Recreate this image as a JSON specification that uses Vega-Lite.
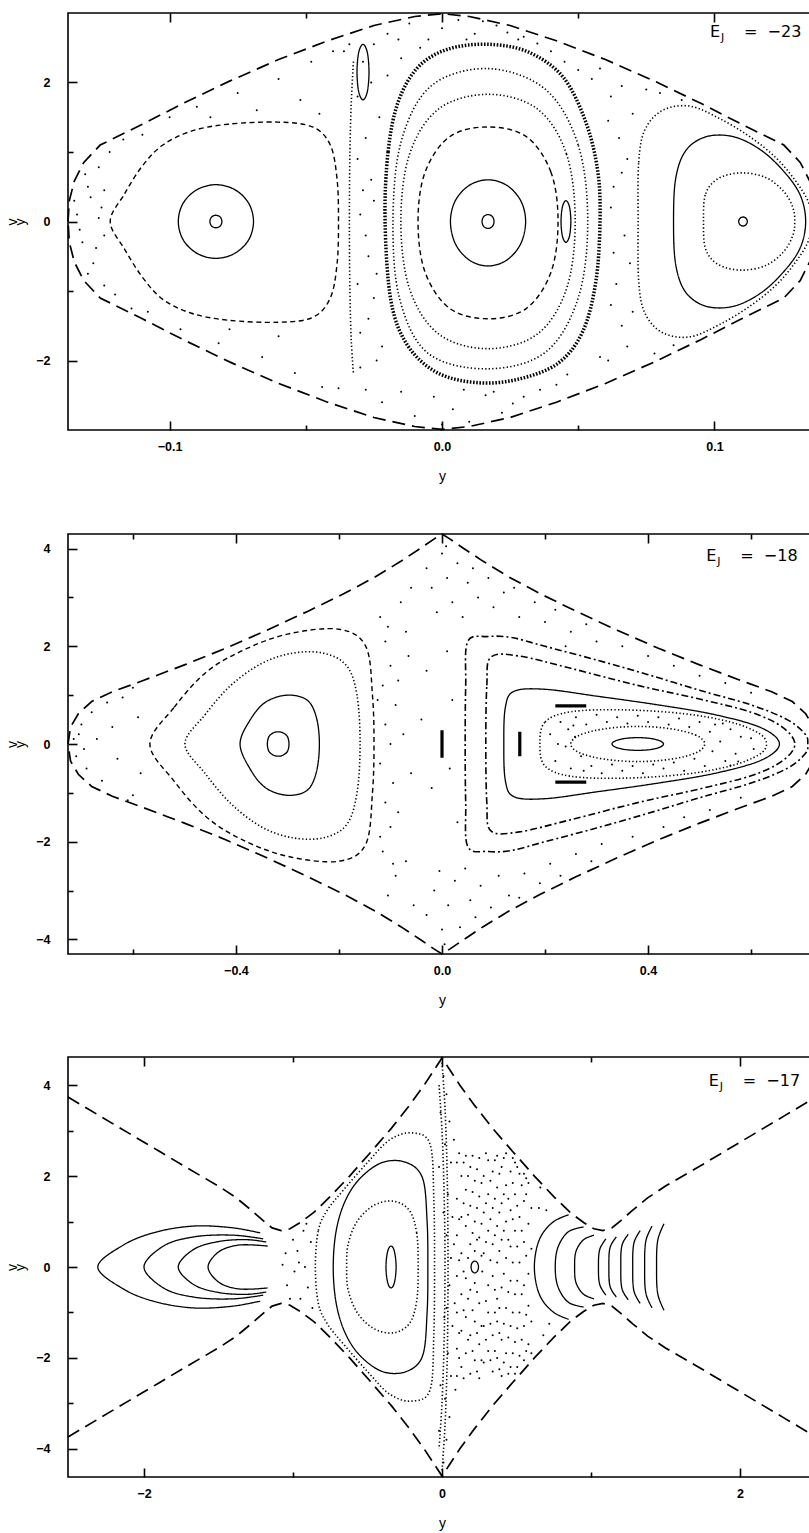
{
  "$schema": "https://vega.github.io/schema/vega-lite/v6.json",
  "background": "white",
  "padding": {"left": 4, "top": 9, "right": 0, "bottom": 0},
  "spacing": 44,
  "config": {
    "view": {"stroke": "black", "strokeWidth": 1.6},
    "axis": {"domain": false, "grid": false, "tickColor": "black", "tickWidth": 1.6, "labelColor": "black", "labelFont": "Liberation Sans", "labelFontWeight": "bold", "labelFontSize": 12.5, "labelFlush": false, "labelOverlap": false, "titleFont": "Liberation Sans", "titleFontWeight": "normal", "titleFontSize": 14, "titleColor": "black"},
    "line": {"color": "black", "clip": true},
    "circle": {"color": "black", "clip": true, "size": 4, "opacity": 1},
    "text": {"color": "black", "font": "DejaVu Sans", "align": "left", "baseline": "alphabetic"}
  },
  "datasets": {
    "p1B": [
      {"c":"B","o":0,"x":-0.1373,"v":0},{"c":"B","o":1,"x":-0.1368,"v":0.3},{"c":"B","o":2,"x":-0.135,"v":0.58},{"c":"B","o":3,"x":-0.1315,"v":0.85},{"c":"B","o":4,"x":-0.1255,"v":1.1},{"c":"B","o":5,"x":-0.11,"v":1.4},{"c":"B","o":6,"x":-0.095,"v":1.7},{"c":"B","o":7,"x":-0.078,"v":2.02},{"c":"B","o":8,"x":-0.06,"v":2.33},{"c":"B","o":9,"x":-0.042,"v":2.6},{"c":"B","o":10,"x":-0.025,"v":2.82},{"c":"B","o":11,"x":-0.01,"v":2.95},{"c":"B","o":12,"x":0,"v":2.99},{"c":"B","o":13,"x":0.01,"v":2.95},{"c":"B","o":14,"x":0.025,"v":2.82},{"c":"B","o":15,"x":0.042,"v":2.6},{"c":"B","o":16,"x":0.06,"v":2.33},{"c":"B","o":17,"x":0.078,"v":2.02},{"c":"B","o":18,"x":0.095,"v":1.7},{"c":"B","o":19,"x":0.11,"v":1.4},{"c":"B","o":20,"x":0.1255,"v":1.1},{"c":"B","o":21,"x":0.1315,"v":0.85},{"c":"B","o":22,"x":0.135,"v":0.58},{"c":"B","o":23,"x":0.1368,"v":0.3},{"c":"B","o":24,"x":0.1373,"v":0},
      {"c":"B","o":25,"x":0.1368,"v":-0.3},{"c":"B","o":26,"x":0.135,"v":-0.58},{"c":"B","o":27,"x":0.1315,"v":-0.85},{"c":"B","o":28,"x":0.1255,"v":-1.1},{"c":"B","o":29,"x":0.11,"v":-1.4},{"c":"B","o":30,"x":0.095,"v":-1.7},{"c":"B","o":31,"x":0.078,"v":-2.02},{"c":"B","o":32,"x":0.06,"v":-2.33},{"c":"B","o":33,"x":0.042,"v":-2.6},{"c":"B","o":34,"x":0.025,"v":-2.82},{"c":"B","o":35,"x":0.01,"v":-2.95},{"c":"B","o":36,"x":0,"v":-2.99},{"c":"B","o":37,"x":-0.01,"v":-2.95},{"c":"B","o":38,"x":-0.025,"v":-2.82},{"c":"B","o":39,"x":-0.042,"v":-2.6},{"c":"B","o":40,"x":-0.06,"v":-2.33},{"c":"B","o":41,"x":-0.078,"v":-2.02},{"c":"B","o":42,"x":-0.095,"v":-1.7},{"c":"B","o":43,"x":-0.11,"v":-1.4},{"c":"B","o":44,"x":-0.1255,"v":-1.1},{"c":"B","o":45,"x":-0.1315,"v":-0.85},{"c":"B","o":46,"x":-0.135,"v":-0.58},{"c":"B","o":47,"x":-0.1368,"v":-0.3},{"c":"B","o":48,"x":-0.1373,"v":0}
    ],
    "p1L": [
      {"c":"a","s":"solid","o":0,"x":-0.0808,"v":0},{"c":"a","s":"solid","o":1,"x":-0.0814,"v":0.064},{"c":"a","s":"solid","o":2,"x":-0.083,"v":0.09},{"c":"a","s":"solid","o":3,"x":-0.0846,"v":0.064},{"c":"a","s":"solid","o":4,"x":-0.0852,"v":0},{"c":"a","s":"solid","o":5,"x":-0.0846,"v":-0.064},{"c":"a","s":"solid","o":6,"x":-0.083,"v":-0.09},{"c":"a","s":"solid","o":7,"x":-0.0814,"v":-0.064},
      {"c":"b","s":"solid","o":0,"x":-0.0692,"v":0},{"c":"b","s":"solid","o":1,"x":-0.071,"v":0.265},{"c":"b","s":"solid","o":2,"x":-0.0761,"v":0.459},{"c":"b","s":"solid","o":3,"x":-0.083,"v":0.53},{"c":"b","s":"solid","o":4,"x":-0.0899,"v":0.459},{"c":"b","s":"solid","o":5,"x":-0.095,"v":0.265},{"c":"b","s":"solid","o":6,"x":-0.0968,"v":0},{"c":"b","s":"solid","o":7,"x":-0.095,"v":-0.265},{"c":"b","s":"solid","o":8,"x":-0.0899,"v":-0.459},{"c":"b","s":"solid","o":9,"x":-0.083,"v":-0.53},{"c":"b","s":"solid","o":10,"x":-0.0761,"v":-0.459},{"c":"b","s":"solid","o":11,"x":-0.071,"v":-0.265},
      {"c":"c","s":"dash","o":0,"x":-0.1218,"v":0},{"c":"c","s":"dash","o":1,"x":-0.1165,"v":0.4},{"c":"c","s":"dash","o":2,"x":-0.11,"v":0.8},{"c":"c","s":"dash","o":3,"x":-0.1025,"v":1.1},{"c":"c","s":"dash","o":4,"x":-0.092,"v":1.3},{"c":"c","s":"dash","o":5,"x":-0.0785,"v":1.4},{"c":"c","s":"dash","o":6,"x":-0.0602,"v":1.43},{"c":"c","s":"dash","o":7,"x":-0.0475,"v":1.36},{"c":"c","s":"dash","o":8,"x":-0.041,"v":1.1},{"c":"c","s":"dash","o":9,"x":-0.0385,"v":0.6},{"c":"c","s":"dash","o":10,"x":-0.038,"v":0},{"c":"c","s":"dash","o":11,"x":-0.0385,"v":-0.6},{"c":"c","s":"dash","o":12,"x":-0.041,"v":-1.1},{"c":"c","s":"dash","o":13,"x":-0.0475,"v":-1.38},{"c":"c","s":"dash","o":14,"x":-0.0602,"v":-1.45},{"c":"c","s":"dash","o":15,"x":-0.0785,"v":-1.42},{"c":"c","s":"dash","o":16,"x":-0.092,"v":-1.32},{"c":"c","s":"dash","o":17,"x":-0.1025,"v":-1.12},{"c":"c","s":"dash","o":18,"x":-0.11,"v":-0.8},{"c":"c","s":"dash","o":19,"x":-0.1165,"v":-0.4},
      {"c":"d","s":"solid","o":0,"x":-0.0268,"v":2.15},{"c":"d","s":"solid","o":1,"x":-0.0274,"v":2.43},{"c":"d","s":"solid","o":2,"x":-0.029,"v":2.55},{"c":"d","s":"solid","o":3,"x":-0.0306,"v":2.43},{"c":"d","s":"solid","o":4,"x":-0.0312,"v":2.15},{"c":"d","s":"solid","o":5,"x":-0.0306,"v":1.87},{"c":"d","s":"solid","o":6,"x":-0.029,"v":1.75},{"c":"d","s":"solid","o":7,"x":-0.0274,"v":1.87},
      {"c":"e","s":"solid","o":0,"x":0.0191,"v":0},{"c":"e","s":"solid","o":1,"x":0.0185,"v":0.07},{"c":"e","s":"solid","o":2,"x":0.0169,"v":0.1},{"c":"e","s":"solid","o":3,"x":0.0153,"v":0.07},{"c":"e","s":"solid","o":4,"x":0.0147,"v":0},{"c":"e","s":"solid","o":5,"x":0.0153,"v":-0.07},{"c":"e","s":"solid","o":6,"x":0.0169,"v":-0.1},{"c":"e","s":"solid","o":7,"x":0.0185,"v":-0.07},
      {"c":"f","s":"solid","o":0,"x":0.0307,"v":0},{"c":"f","s":"solid","o":1,"x":0.0289,"v":0.3},{"c":"f","s":"solid","o":2,"x":0.0238,"v":0.52},{"c":"f","s":"solid","o":3,"x":0.0169,"v":0.6},{"c":"f","s":"solid","o":4,"x":0.01,"v":0.52},{"c":"f","s":"solid","o":5,"x":0.0049,"v":0.3},{"c":"f","s":"solid","o":6,"x":0.0031,"v":0},{"c":"f","s":"solid","o":7,"x":0.0049,"v":-0.32},{"c":"f","s":"solid","o":8,"x":0.01,"v":-0.555},{"c":"f","s":"solid","o":9,"x":0.0169,"v":-0.64},{"c":"f","s":"solid","o":10,"x":0.0238,"v":-0.555},{"c":"f","s":"solid","o":11,"x":0.0289,"v":-0.32},
      {"c":"g","s":"dash","o":0,"x":0.0426,"v":0},{"c":"g","s":"dash","o":1,"x":0.04,"v":0.71},{"c":"g","s":"dash","o":2,"x":0.031,"v":1.22},{"c":"g","s":"dash","o":3,"x":0.0169,"v":1.36},{"c":"g","s":"dash","o":4,"x":0.0028,"v":1.22},{"c":"g","s":"dash","o":5,"x":-0.0062,"v":0.71},{"c":"g","s":"dash","o":6,"x":-0.0088,"v":0},{"c":"g","s":"dash","o":7,"x":-0.0062,"v":-0.73},{"c":"g","s":"dash","o":8,"x":0.0028,"v":-1.25},{"c":"g","s":"dash","o":9,"x":0.0169,"v":-1.4},{"c":"g","s":"dash","o":10,"x":0.031,"v":-1.25},{"c":"g","s":"dash","o":11,"x":0.04,"v":-0.73},
      {"c":"h","s":"dot","o":0,"x":0.0489,"v":0},{"c":"h","s":"dot","o":1,"x":0.0457,"v":0.97},{"c":"h","s":"dot","o":2,"x":0.035,"v":1.62},{"c":"h","s":"dot","o":3,"x":0.0169,"v":1.83},{"c":"h","s":"dot","o":4,"x":-0.0012,"v":1.62},{"c":"h","s":"dot","o":5,"x":-0.0119,"v":0.97},{"c":"h","s":"dot","o":6,"x":-0.0151,"v":0},{"c":"h","s":"dot","o":7,"x":-0.0119,"v":-0.97},{"c":"h","s":"dot","o":8,"x":-0.0012,"v":-1.62},{"c":"h","s":"dot","o":9,"x":0.0169,"v":-1.83},{"c":"h","s":"dot","o":10,"x":0.035,"v":-1.62},{"c":"h","s":"dot","o":11,"x":0.0457,"v":-0.97},
      {"c":"i","s":"band","o":0,"x":-0.0209,"v":0},{"c":"i","s":"band","o":1,"x":-0.0198,"v":1.0},{"c":"i","s":"band","o":2,"x":-0.0161,"v":1.72},{"c":"i","s":"band","o":3,"x":-0.0088,"v":2.22},{"c":"i","s":"band","o":4,"x":0.0022,"v":2.48},{"c":"i","s":"band","o":5,"x":0.0169,"v":2.55},{"c":"i","s":"band","o":6,"x":0.0316,"v":2.44},{"c":"i","s":"band","o":7,"x":0.0444,"v":2.08},{"c":"i","s":"band","o":8,"x":0.0528,"v":1.43},{"c":"i","s":"band","o":9,"x":0.0572,"v":0.72},{"c":"i","s":"band","o":10,"x":0.058,"v":0},{"c":"i","s":"band","o":11,"x":0.0565,"v":-0.86},{"c":"i","s":"band","o":12,"x":0.0517,"v":-1.58},{"c":"i","s":"band","o":13,"x":0.0426,"v":-2.04},{"c":"i","s":"band","o":14,"x":0.0279,"v":-2.27},{"c":"i","s":"band","o":15,"x":0.0132,"v":-2.32},{"c":"i","s":"band","o":16,"x":-0.0015,"v":-2.18},{"c":"i","s":"band","o":17,"x":-0.0125,"v":-1.79},{"c":"i","s":"band","o":18,"x":-0.0187,"v":-1.15},
      {"c":"j","s":"dot","o":0,"x":0.0535,"v":0},{"c":"j","s":"dot","o":1,"x":0.05,"v":1.1},{"c":"j","s":"dot","o":2,"x":0.038,"v":1.9},{"c":"j","s":"dot","o":3,"x":0.0169,"v":2.2},{"c":"j","s":"dot","o":4,"x":-0.004,"v":1.95},{"c":"j","s":"dot","o":5,"x":-0.015,"v":1.15},{"c":"j","s":"dot","o":6,"x":-0.018,"v":0},{"c":"j","s":"dot","o":7,"x":-0.0155,"v":-1.12},{"c":"j","s":"dot","o":8,"x":-0.005,"v":-1.9},{"c":"j","s":"dot","o":9,"x":0.0169,"v":-2.12},{"c":"j","s":"dot","o":10,"x":0.038,"v":-1.88},{"c":"j","s":"dot","o":11,"x":0.05,"v":-1.1},
      {"c":"k","s":"solid","o":0,"x":0.0473,"v":0},{"c":"k","s":"solid","o":1,"x":0.0468,"v":0.21},{"c":"k","s":"solid","o":2,"x":0.0455,"v":0.3},{"c":"k","s":"solid","o":3,"x":0.0442,"v":0.21},{"c":"k","s":"solid","o":4,"x":0.0437,"v":0},{"c":"k","s":"solid","o":5,"x":0.0442,"v":-0.21},{"c":"k","s":"solid","o":6,"x":0.0455,"v":-0.3},{"c":"k","s":"solid","o":7,"x":0.0468,"v":-0.21},
      {"c":"l","s":"solid","o":0,"x":0.1121,"v":0},{"c":"l","s":"solid","o":1,"x":0.1116,"v":0.046},{"c":"l","s":"solid","o":2,"x":0.1105,"v":0.065},{"c":"l","s":"solid","o":3,"x":0.1094,"v":0.046},{"c":"l","s":"solid","o":4,"x":0.1089,"v":0},{"c":"l","s":"solid","o":5,"x":0.1094,"v":-0.046},{"c":"l","s":"solid","o":6,"x":0.1105,"v":-0.065},{"c":"l","s":"solid","o":7,"x":0.1116,"v":-0.046},
      {"c":"m","s":"dot","o":0,"x":0.096,"v":0},{"c":"m","s":"dot","o":1,"x":0.0968,"v":0.4},{"c":"m","s":"dot","o":2,"x":0.1015,"v":0.62},{"c":"m","s":"dot","o":3,"x":0.11,"v":0.7},{"c":"m","s":"dot","o":4,"x":0.119,"v":0.63},{"c":"m","s":"dot","o":5,"x":0.1255,"v":0.43},{"c":"m","s":"dot","o":6,"x":0.1288,"v":0.2},{"c":"m","s":"dot","o":7,"x":0.1295,"v":0},{"c":"m","s":"dot","o":8,"x":0.1288,"v":-0.2},{"c":"m","s":"dot","o":9,"x":0.1255,"v":-0.43},{"c":"m","s":"dot","o":10,"x":0.119,"v":-0.63},{"c":"m","s":"dot","o":11,"x":0.11,"v":-0.7},{"c":"m","s":"dot","o":12,"x":0.1015,"v":-0.62},{"c":"m","s":"dot","o":13,"x":0.0968,"v":-0.4},
      {"c":"n","s":"solid","o":0,"x":0.085,"v":0},{"c":"n","s":"solid","o":1,"x":0.0858,"v":0.62},{"c":"n","s":"solid","o":2,"x":0.0895,"v":1.02},{"c":"n","s":"solid","o":3,"x":0.097,"v":1.22},{"c":"n","s":"solid","o":4,"x":0.107,"v":1.22},{"c":"n","s":"solid","o":5,"x":0.117,"v":1.03},{"c":"n","s":"solid","o":6,"x":0.1255,"v":0.72},{"c":"n","s":"solid","o":7,"x":0.1315,"v":0.38},{"c":"n","s":"solid","o":8,"x":0.1335,"v":0},{"c":"n","s":"solid","o":9,"x":0.1315,"v":-0.38},{"c":"n","s":"solid","o":10,"x":0.1255,"v":-0.72},{"c":"n","s":"solid","o":11,"x":0.117,"v":-1.03},{"c":"n","s":"solid","o":12,"x":0.107,"v":-1.22},{"c":"n","s":"solid","o":13,"x":0.097,"v":-1.22},{"c":"n","s":"solid","o":14,"x":0.0895,"v":-1.02},{"c":"n","s":"solid","o":15,"x":0.0858,"v":-0.62},
      {"c":"q","s":"dot","o":0,"x":0.072,"v":0},{"c":"q","s":"dot","o":1,"x":0.0722,"v":0.85},{"c":"q","s":"dot","o":2,"x":0.0745,"v":1.32},{"c":"q","s":"dot","o":3,"x":0.081,"v":1.6},{"c":"q","s":"dot","o":4,"x":0.091,"v":1.66},{"c":"q","s":"dot","o":5,"x":0.102,"v":1.48},{"c":"q","s":"dot","o":6,"x":0.113,"v":1.22},{"c":"q","s":"dot","o":7,"x":0.1225,"v":0.92},{"c":"q","s":"dot","o":8,"x":0.1295,"v":0.6},{"c":"q","s":"dot","o":9,"x":0.1345,"v":0.28},{"c":"q","s":"dot","o":10,"x":0.1355,"v":0},{"c":"q","s":"dot","o":11,"x":0.1345,"v":-0.28},{"c":"q","s":"dot","o":12,"x":0.1295,"v":-0.6},{"c":"q","s":"dot","o":13,"x":0.1225,"v":-0.92},{"c":"q","s":"dot","o":14,"x":0.113,"v":-1.22},{"c":"q","s":"dot","o":15,"x":0.102,"v":-1.48},{"c":"q","s":"dot","o":16,"x":0.091,"v":-1.66},{"c":"q","s":"dot","o":17,"x":0.081,"v":-1.6},{"c":"q","s":"dot","o":18,"x":0.0745,"v":-1.32},{"c":"q","s":"dot","o":19,"x":0.0722,"v":-0.85}
    ],
    "p1O": [
      {"c":"A","s":"dot","o":0,"x":-0.0325,"v":2.3},{"c":"A","s":"dot","o":1,"x":-0.0333,"v":1.72},{"c":"A","s":"dot","o":2,"x":-0.0338,"v":1.0},{"c":"A","s":"dot","o":3,"x":-0.034,"v":0},{"c":"A","s":"dot","o":4,"x":-0.0338,"v":-1.0},{"c":"A","s":"dot","o":5,"x":-0.0333,"v":-1.72},{"c":"A","s":"dot","o":6,"x":-0.0325,"v":-2.2}
    ],
    "p1S": [
      {"x":-0.134,"v":0.1},{"x":-0.132,"v":-0.3},{"x":-0.13,"v":0.5},{"x":-0.128,"v":-0.6},{"x":-0.126,"v":0.78},{"x":-0.125,"v":0.2},{"x":-0.124,"v":-0.92},{"x":-0.129,"v":0.35},{"x":-0.133,"v":-0.12},{"x":-0.127,"v":-0.38},{"x":-0.131,"v":0.68},{"x":-0.122,"v":1.0},{"x":-0.12,"v":-1.05},{"x":-0.117,"v":1.18},{"x":-0.114,"v":-1.25},{"x":-0.135,"v":0.3},{"x":-0.126,"v":0.05},{"x":-0.124,"v":-0.2},{"x":-0.124,"v":0.45},{"x":-0.13,"v":-0.75},
      {"x":-0.11,"v":1.25},{"x":-0.1,"v":1.5},{"x":-0.09,"v":1.65},{"x":-0.075,"v":1.85},{"x":-0.06,"v":2.05},{"x":-0.048,"v":2.3},{"x":-0.04,"v":2.45},{"x":-0.052,"v":1.75},{"x":-0.068,"v":1.6},{"x":-0.085,"v":1.5},{"x":-0.045,"v":1.55},
      {"x":-0.108,"v":-1.3},{"x":-0.096,"v":-1.55},{"x":-0.082,"v":-1.75},{"x":-0.066,"v":-1.95},{"x":-0.054,"v":-2.18},{"x":-0.044,"v":-2.38},{"x":-0.06,"v":-1.65},{"x":-0.078,"v":-1.55},
      {"x":-0.031,"v":1.8},{"x":-0.028,"v":1.2},{"x":-0.026,"v":0.6},{"x":-0.03,"v":0.1},{"x":-0.027,"v":-0.5},{"x":-0.025,"v":-1.1},{"x":-0.03,"v":-1.6},{"x":-0.024,"v":-2.0},{"x":-0.029,"v":2.3},{"x":-0.026,"v":2.0},{"x":-0.023,"v":1.5},{"x":-0.031,"v":0.9},{"x":-0.028,"v":-0.2},{"x":-0.031,"v":-0.9},{"x":-0.027,"v":-1.4},{"x":-0.022,"v":-1.8},{"x":-0.03,"v":-2.1},{"x":-0.025,"v":0.3},{"x":-0.029,"v":0.45},{"x":-0.024,"v":-0.75},{"x":-0.036,"v":2.45},{"x":-0.038,"v":-2.4},{"x":-0.034,"v":2.55},{"x":-0.02,"v":2.1},{"x":-0.015,"v":2.35},
      {"x":-0.02,"v":2.7},{"x":-0.012,"v":2.85},{"x":-0.005,"v":2.62},{"x":0.0,"v":2.78},{"x":0.006,"v":2.9},{"x":0.012,"v":2.7},{"x":0.02,"v":2.82},{"x":0.028,"v":2.62},{"x":0.035,"v":2.56},{"x":0.04,"v":2.45},{"x":-0.025,"v":2.55},{"x":0.015,"v":2.88},{"x":0.03,"v":2.66},{"x":0.045,"v":2.3},{"x":0.05,"v":2.18},{"x":-0.008,"v":2.5},{"x":0.024,"v":2.72},{"x":0.009,"v":2.62},{"x":-0.016,"v":2.62},
      {"x":-0.022,"v":-2.6},{"x":-0.01,"v":-2.8},{"x":-0.003,"v":-2.52},{"x":0.004,"v":-2.7},{"x":0.01,"v":-2.88},{"x":0.016,"v":-2.5},{"x":0.022,"v":-2.75},{"x":0.03,"v":-2.52},{"x":0.036,"v":-2.42},{"x":0.042,"v":-2.35},{"x":-0.028,"v":-2.42},{"x":0.0,"v":-2.92},{"x":0.026,"v":-2.62},{"x":0.046,"v":-2.2},{"x":-0.015,"v":-2.45},{"x":0.008,"v":-2.42},{"x":0.019,"v":-2.45},
      {"x":0.062,"v":1.8},{"x":0.065,"v":1.2},{"x":0.063,"v":0.5},{"x":0.067,"v":-0.2},{"x":0.064,"v":-0.9},{"x":0.066,"v":-1.5},{"x":0.061,"v":-2.0},{"x":0.066,"v":1.95},{"x":0.061,"v":1.45},{"x":0.068,"v":0.9},{"x":0.062,"v":0.2},{"x":0.069,"v":-0.6},{"x":0.062,"v":-1.2},{"x":0.068,"v":-1.8},{"x":0.055,"v":2.05},{"x":0.058,"v":-1.95},{"x":0.07,"v":1.55},{"x":0.07,"v":-1.3},{"x":0.063,"v":-0.45},{"x":0.066,"v":0.7},
      {"x":0.08,"v":1.85},{"x":0.075,"v":1.9},{"x":0.088,"v":1.75},{"x":0.085,"v":-1.78},{"x":0.078,"v":-1.9},{"x":0.058,"v":2.2}
    ],
    "p2B": [
      {"c":"B","o":0,"x":-0.726,"v":0},{"c":"B","o":1,"x":-0.721,"v":0.35},{"c":"B","o":2,"x":-0.706,"v":0.62},{"c":"B","o":3,"x":-0.68,"v":0.87},{"c":"B","o":4,"x":-0.64,"v":1.07},{"c":"B","o":5,"x":-0.58,"v":1.3},{"c":"B","o":6,"x":-0.5,"v":1.62},{"c":"B","o":7,"x":-0.42,"v":1.96},{"c":"B","o":8,"x":-0.34,"v":2.33},{"c":"B","o":9,"x":-0.26,"v":2.72},{"c":"B","o":10,"x":-0.19,"v":3.08},{"c":"B","o":11,"x":-0.13,"v":3.42},{"c":"B","o":12,"x":-0.08,"v":3.74},{"c":"B","o":13,"x":-0.04,"v":4.02},{"c":"B","o":14,"x":-0.015,"v":4.2},{"c":"B","o":15,"x":0,"v":4.3},{"c":"B","o":16,"x":0.015,"v":4.2},{"c":"B","o":17,"x":0.04,"v":4.02},{"c":"B","o":18,"x":0.08,"v":3.74},{"c":"B","o":19,"x":0.13,"v":3.42},{"c":"B","o":20,"x":0.19,"v":3.08},{"c":"B","o":21,"x":0.26,"v":2.72},{"c":"B","o":22,"x":0.34,"v":2.33},{"c":"B","o":23,"x":0.42,"v":1.96},{"c":"B","o":24,"x":0.5,"v":1.62},{"c":"B","o":25,"x":0.58,"v":1.3},{"c":"B","o":26,"x":0.64,"v":1.07},{"c":"B","o":27,"x":0.68,"v":0.87},{"c":"B","o":28,"x":0.706,"v":0.62},{"c":"B","o":29,"x":0.721,"v":0.35},{"c":"B","o":30,"x":0.726,"v":0},
      {"c":"B","o":31,"x":0.721,"v":-0.35},{"c":"B","o":32,"x":0.706,"v":-0.62},{"c":"B","o":33,"x":0.68,"v":-0.87},{"c":"B","o":34,"x":0.64,"v":-1.07},{"c":"B","o":35,"x":0.58,"v":-1.3},{"c":"B","o":36,"x":0.5,"v":-1.62},{"c":"B","o":37,"x":0.42,"v":-1.96},{"c":"B","o":38,"x":0.34,"v":-2.33},{"c":"B","o":39,"x":0.26,"v":-2.72},{"c":"B","o":40,"x":0.19,"v":-3.08},{"c":"B","o":41,"x":0.13,"v":-3.42},{"c":"B","o":42,"x":0.08,"v":-3.74},{"c":"B","o":43,"x":0.04,"v":-4.02},{"c":"B","o":44,"x":0.015,"v":-4.2},{"c":"B","o":45,"x":0,"v":-4.3},{"c":"B","o":46,"x":-0.015,"v":-4.2},{"c":"B","o":47,"x":-0.04,"v":-4.02},{"c":"B","o":48,"x":-0.08,"v":-3.74},{"c":"B","o":49,"x":-0.13,"v":-3.42},{"c":"B","o":50,"x":-0.19,"v":-3.08},{"c":"B","o":51,"x":-0.26,"v":-2.72},{"c":"B","o":52,"x":-0.34,"v":-2.33},{"c":"B","o":53,"x":-0.42,"v":-1.96},{"c":"B","o":54,"x":-0.5,"v":-1.62},{"c":"B","o":55,"x":-0.58,"v":-1.3},{"c":"B","o":56,"x":-0.64,"v":-1.07},{"c":"B","o":57,"x":-0.68,"v":-0.87},{"c":"B","o":58,"x":-0.706,"v":-0.62},{"c":"B","o":59,"x":-0.721,"v":-0.35},{"c":"B","o":60,"x":-0.726,"v":0}
    ],
    "p2L": [
      {"c":"a","s":"solid","o":0,"x":-0.297,"v":0},{"c":"a","s":"solid","o":1,"x":-0.3,"v":0.15},{"c":"a","s":"solid","o":2,"x":-0.309,"v":0.23},{"c":"a","s":"solid","o":3,"x":-0.318,"v":0.25},{"c":"a","s":"solid","o":4,"x":-0.327,"v":0.23},{"c":"a","s":"solid","o":5,"x":-0.336,"v":0.15},{"c":"a","s":"solid","o":6,"x":-0.339,"v":0},{"c":"a","s":"solid","o":7,"x":-0.336,"v":-0.15},{"c":"a","s":"solid","o":8,"x":-0.327,"v":-0.23},{"c":"a","s":"solid","o":9,"x":-0.318,"v":-0.25},{"c":"a","s":"solid","o":10,"x":-0.309,"v":-0.23},{"c":"a","s":"solid","o":11,"x":-0.3,"v":-0.15},
      {"c":"b","s":"solid","o":0,"x":-0.392,"v":0},{"c":"b","s":"solid","o":1,"x":-0.372,"v":0.5},{"c":"b","s":"solid","o":2,"x":-0.342,"v":0.86},{"c":"b","s":"solid","o":3,"x":-0.3,"v":1.0},{"c":"b","s":"solid","o":4,"x":-0.262,"v":0.9},{"c":"b","s":"solid","o":5,"x":-0.244,"v":0.55},{"c":"b","s":"solid","o":6,"x":-0.238,"v":0},{"c":"b","s":"solid","o":7,"x":-0.244,"v":-0.58},{"c":"b","s":"solid","o":8,"x":-0.262,"v":-0.95},{"c":"b","s":"solid","o":9,"x":-0.3,"v":-1.05},{"c":"b","s":"solid","o":10,"x":-0.342,"v":-0.9},{"c":"b","s":"solid","o":11,"x":-0.372,"v":-0.52},
      {"c":"c","s":"dot","o":0,"x":-0.499,"v":0},{"c":"c","s":"dot","o":1,"x":-0.46,"v":0.6},{"c":"c","s":"dot","o":2,"x":-0.41,"v":1.2},{"c":"c","s":"dot","o":3,"x":-0.35,"v":1.65},{"c":"c","s":"dot","o":4,"x":-0.29,"v":1.86},{"c":"c","s":"dot","o":5,"x":-0.23,"v":1.86},{"c":"c","s":"dot","o":6,"x":-0.185,"v":1.6},{"c":"c","s":"dot","o":7,"x":-0.165,"v":1.0},{"c":"c","s":"dot","o":8,"x":-0.159,"v":0},{"c":"c","s":"dot","o":9,"x":-0.165,"v":-1.0},{"c":"c","s":"dot","o":10,"x":-0.185,"v":-1.65},{"c":"c","s":"dot","o":11,"x":-0.23,"v":-1.92},{"c":"c","s":"dot","o":12,"x":-0.29,"v":-1.92},{"c":"c","s":"dot","o":13,"x":-0.35,"v":-1.7},{"c":"c","s":"dot","o":14,"x":-0.41,"v":-1.22},{"c":"c","s":"dot","o":15,"x":-0.46,"v":-0.6},
      {"c":"d","s":"dash","o":0,"x":-0.567,"v":0},{"c":"d","s":"dash","o":1,"x":-0.52,"v":0.75},{"c":"d","s":"dash","o":2,"x":-0.46,"v":1.45},{"c":"d","s":"dash","o":3,"x":-0.39,"v":1.9},{"c":"d","s":"dash","o":4,"x":-0.3,"v":2.25},{"c":"d","s":"dash","o":5,"x":-0.2,"v":2.35},{"c":"d","s":"dash","o":6,"x":-0.148,"v":2.0},{"c":"d","s":"dash","o":7,"x":-0.135,"v":1.0},{"c":"d","s":"dash","o":8,"x":-0.132,"v":0},{"c":"d","s":"dash","o":9,"x":-0.135,"v":-1.0},{"c":"d","s":"dash","o":10,"x":-0.148,"v":-2.05},{"c":"d","s":"dash","o":11,"x":-0.2,"v":-2.4},{"c":"d","s":"dash","o":12,"x":-0.3,"v":-2.3},{"c":"d","s":"dash","o":13,"x":-0.39,"v":-1.95},{"c":"d","s":"dash","o":14,"x":-0.46,"v":-1.47},{"c":"d","s":"dash","o":15,"x":-0.52,"v":-0.76},
      {"c":"e","s":"dashdot","o":0,"x":0.045,"v":0},{"c":"e","s":"dashdot","o":1,"x":0.046,"v":1.2},{"c":"e","s":"dashdot","o":2,"x":0.05,"v":2.1},{"c":"e","s":"dashdot","o":3,"x":0.09,"v":2.2},{"c":"e","s":"dashdot","o":4,"x":0.135,"v":2.18},{"c":"e","s":"dashdot","o":5,"x":0.2,"v":2.0},{"c":"e","s":"dashdot","o":6,"x":0.3,"v":1.72},{"c":"e","s":"dashdot","o":7,"x":0.4,"v":1.42},{"c":"e","s":"dashdot","o":8,"x":0.5,"v":1.1},{"c":"e","s":"dashdot","o":9,"x":0.6,"v":0.8},{"c":"e","s":"dashdot","o":10,"x":0.67,"v":0.5},{"c":"e","s":"dashdot","o":11,"x":0.705,"v":0.2},{"c":"e","s":"dashdot","o":12,"x":0.71,"v":0},{"c":"e","s":"dashdot","o":13,"x":0.705,"v":-0.2},{"c":"e","s":"dashdot","o":14,"x":0.67,"v":-0.5},{"c":"e","s":"dashdot","o":15,"x":0.6,"v":-0.8},{"c":"e","s":"dashdot","o":16,"x":0.5,"v":-1.1},{"c":"e","s":"dashdot","o":17,"x":0.4,"v":-1.42},{"c":"e","s":"dashdot","o":18,"x":0.3,"v":-1.72},{"c":"e","s":"dashdot","o":19,"x":0.2,"v":-2.0},{"c":"e","s":"dashdot","o":20,"x":0.135,"v":-2.18},{"c":"e","s":"dashdot","o":21,"x":0.09,"v":-2.2},{"c":"e","s":"dashdot","o":22,"x":0.05,"v":-2.1},{"c":"e","s":"dashdot","o":23,"x":0.046,"v":-1.2},
      {"c":"f","s":"dashdot","o":0,"x":0.085,"v":0},{"c":"f","s":"dashdot","o":1,"x":0.087,"v":1.2},{"c":"f","s":"dashdot","o":2,"x":0.095,"v":1.78},{"c":"f","s":"dashdot","o":3,"x":0.15,"v":1.8},{"c":"f","s":"dashdot","o":4,"x":0.25,"v":1.55},{"c":"f","s":"dashdot","o":5,"x":0.38,"v":1.2},{"c":"f","s":"dashdot","o":6,"x":0.5,"v":0.92},{"c":"f","s":"dashdot","o":7,"x":0.6,"v":0.65},{"c":"f","s":"dashdot","o":8,"x":0.66,"v":0.35},{"c":"f","s":"dashdot","o":9,"x":0.685,"v":0},{"c":"f","s":"dashdot","o":10,"x":0.66,"v":-0.35},{"c":"f","s":"dashdot","o":11,"x":0.6,"v":-0.65},{"c":"f","s":"dashdot","o":12,"x":0.5,"v":-0.92},{"c":"f","s":"dashdot","o":13,"x":0.38,"v":-1.2},{"c":"f","s":"dashdot","o":14,"x":0.25,"v":-1.55},{"c":"f","s":"dashdot","o":15,"x":0.15,"v":-1.8},{"c":"f","s":"dashdot","o":16,"x":0.095,"v":-1.78},{"c":"f","s":"dashdot","o":17,"x":0.087,"v":-1.2},
      {"c":"g","s":"solid","o":0,"x":0.12,"v":0},{"c":"g","s":"solid","o":1,"x":0.123,"v":0.75},{"c":"g","s":"solid","o":2,"x":0.14,"v":1.08},{"c":"g","s":"solid","o":3,"x":0.2,"v":1.12},{"c":"g","s":"solid","o":4,"x":0.3,"v":0.98},{"c":"g","s":"solid","o":5,"x":0.42,"v":0.8},{"c":"g","s":"solid","o":6,"x":0.53,"v":0.6},{"c":"g","s":"solid","o":7,"x":0.62,"v":0.33},{"c":"g","s":"solid","o":8,"x":0.655,"v":0},{"c":"g","s":"solid","o":9,"x":0.62,"v":-0.33},{"c":"g","s":"solid","o":10,"x":0.53,"v":-0.6},{"c":"g","s":"solid","o":11,"x":0.42,"v":-0.8},{"c":"g","s":"solid","o":12,"x":0.3,"v":-0.98},{"c":"g","s":"solid","o":13,"x":0.2,"v":-1.12},{"c":"g","s":"solid","o":14,"x":0.14,"v":-1.08},{"c":"g","s":"solid","o":15,"x":0.123,"v":-0.75},
      {"c":"h","s":"dot","o":0,"x":0.19,"v":0},{"c":"h","s":"dot","o":1,"x":0.2,"v":0.45},{"c":"h","s":"dot","o":2,"x":0.25,"v":0.66},{"c":"h","s":"dot","o":3,"x":0.35,"v":0.7},{"c":"h","s":"dot","o":4,"x":0.47,"v":0.62},{"c":"h","s":"dot","o":5,"x":0.56,"v":0.45},{"c":"h","s":"dot","o":6,"x":0.615,"v":0.22},{"c":"h","s":"dot","o":7,"x":0.63,"v":0},{"c":"h","s":"dot","o":8,"x":0.615,"v":-0.22},{"c":"h","s":"dot","o":9,"x":0.56,"v":-0.45},{"c":"h","s":"dot","o":10,"x":0.47,"v":-0.62},{"c":"h","s":"dot","o":11,"x":0.35,"v":-0.7},{"c":"h","s":"dot","o":12,"x":0.25,"v":-0.66},{"c":"h","s":"dot","o":13,"x":0.2,"v":-0.45},
      {"c":"i","s":"dot","o":0,"x":0.51,"v":0},{"c":"i","s":"dot","o":1,"x":0.493,"v":0.18},{"c":"i","s":"dot","o":2,"x":0.445,"v":0.31},{"c":"i","s":"dot","o":3,"x":0.38,"v":0.36},{"c":"i","s":"dot","o":4,"x":0.315,"v":0.31},{"c":"i","s":"dot","o":5,"x":0.267,"v":0.18},{"c":"i","s":"dot","o":6,"x":0.25,"v":0},{"c":"i","s":"dot","o":7,"x":0.267,"v":-0.18},{"c":"i","s":"dot","o":8,"x":0.315,"v":-0.31},{"c":"i","s":"dot","o":9,"x":0.38,"v":-0.36},{"c":"i","s":"dot","o":10,"x":0.445,"v":-0.31},{"c":"i","s":"dot","o":11,"x":0.493,"v":-0.18},
      {"c":"j","s":"solid","o":0,"x":0.43,"v":0},{"c":"j","s":"solid","o":1,"x":0.423,"v":0.065},{"c":"j","s":"solid","o":2,"x":0.405,"v":0.113},{"c":"j","s":"solid","o":3,"x":0.38,"v":0.13},{"c":"j","s":"solid","o":4,"x":0.355,"v":0.113},{"c":"j","s":"solid","o":5,"x":0.337,"v":0.065},{"c":"j","s":"solid","o":6,"x":0.33,"v":0},{"c":"j","s":"solid","o":7,"x":0.337,"v":-0.065},{"c":"j","s":"solid","o":8,"x":0.355,"v":-0.113},{"c":"j","s":"solid","o":9,"x":0.38,"v":-0.13},{"c":"j","s":"solid","o":10,"x":0.405,"v":-0.113},{"c":"j","s":"solid","o":11,"x":0.423,"v":-0.065}
    ],
    "p2O": [
      {"c":"A","s":"thick","o":0,"x":0,"v":0.28},{"c":"A","s":"thick","o":1,"x":0,"v":-0.28},
      {"c":"K","s":"thick","o":0,"x":0.151,"v":0.25},{"c":"K","s":"thick","o":1,"x":0.151,"v":-0.25},
      {"c":"C","s":"thick","o":0,"x":0.22,"v":0.78},{"c":"C","s":"thick","o":1,"x":0.28,"v":0.78},
      {"c":"D","s":"thick","o":0,"x":0.22,"v":-0.78},{"c":"D","s":"thick","o":1,"x":0.28,"v":-0.78}
    ],
    "p2S": [
      {"x":-0.715,"v":0.1},{"x":-0.71,"v":-0.25},{"x":-0.7,"v":0.4},{"x":-0.69,"v":-0.5},{"x":-0.68,"v":0.65},{"x":-0.67,"v":0.1},{"x":-0.66,"v":-0.75},{"x":-0.65,"v":0.85},{"x":-0.705,"v":0.2},{"x":-0.695,"v":-0.1},{"x":-0.62,"v":0.95},{"x":-0.6,"v":-1.05},{"x":-0.64,"v":0.35},{"x":-0.63,"v":-0.3},{"x":-0.59,"v":0.55},{"x":-0.585,"v":-0.6},{"x":-0.6,"v":1.15},{"x":-0.61,"v":-1.15},
      {"x":-0.12,"v":2.6},{"x":-0.11,"v":2.1},{"x":-0.1,"v":1.6},{"x":-0.115,"v":1.2},{"x":-0.09,"v":0.8},{"x":-0.11,"v":0.4},{"x":-0.1,"v":0.0},{"x":-0.12,"v":-0.4},{"x":-0.095,"v":-0.8},{"x":-0.11,"v":-1.2},{"x":-0.1,"v":-1.7},{"x":-0.115,"v":-2.2},{"x":-0.09,"v":-2.7},{"x":-0.105,"v":-3.1},{"x":-0.08,"v":2.9},{"x":-0.07,"v":2.3},{"x":-0.085,"v":1.3},{"x":-0.075,"v":0.2},{"x":-0.085,"v":-1.4},{"x":-0.07,"v":-2.4},{"x":-0.06,"v":3.2},{"x":-0.055,"v":-3.3},{"x":-0.065,"v":1.8},{"x":-0.06,"v":-0.6},{"x":-0.125,"v":0.9},{"x":-0.12,"v":-1.9},{"x":-0.105,"v":2.4},{"x":-0.095,"v":-2.45},
      {"x":-0.03,"v":3.6},{"x":-0.02,"v":3.2},{"x":0.0,"v":3.9},{"x":0.01,"v":3.4},{"x":0.02,"v":2.9},{"x":0.03,"v":3.7},{"x":0.05,"v":3.3},{"x":0.07,"v":3.0},{"x":0.09,"v":3.4},{"x":0.1,"v":2.8},{"x":0.12,"v":3.1},{"x":0.15,"v":2.6},{"x":0.18,"v":2.9},{"x":0.04,"v":2.6},{"x":0.06,"v":3.6},{"x":-0.01,"v":2.7},{"x":0.14,"v":3.2},{"x":0.2,"v":2.5},{"x":0.22,"v":2.75},{"x":0.25,"v":2.3},{"x":0.28,"v":2.45},{"x":0.3,"v":2.1},{"x":0.24,"v":2.0},{"x":0.008,"v":4.05},
      {"x":-0.03,"v":-3.5},{"x":-0.015,"v":-3.0},{"x":0.0,"v":-3.8},{"x":0.012,"v":-3.3},{"x":0.025,"v":-2.8},{"x":0.035,"v":-3.75},{"x":0.055,"v":-3.2},{"x":0.075,"v":-2.9},{"x":0.095,"v":-3.35},{"x":0.11,"v":-2.7},{"x":0.13,"v":-3.1},{"x":0.16,"v":-2.65},{"x":0.19,"v":-2.85},{"x":0.045,"v":-2.55},{"x":0.065,"v":-3.55},{"x":-0.005,"v":-2.6},{"x":0.15,"v":-3.15},{"x":0.21,"v":-2.45},{"x":0.23,"v":-2.7},{"x":0.26,"v":-2.25},{"x":0.29,"v":-2.4},{"x":0.31,"v":-2.05},{"x":0.005,"v":-4.1},
      {"x":-0.03,"v":1.5},{"x":0.02,"v":0.9},{"x":-0.02,"v":-0.9},{"x":0.01,"v":1.9},{"x":0.03,"v":-1.6},{"x":-0.04,"v":0.5},{"x":0.015,"v":-0.5},
      {"x":0.21,"v":0.2},{"x":0.22,"v":-0.35},{"x":0.23,"v":0.45},{"x":0.24,"v":-0.05},{"x":0.245,"v":0.3},{"x":0.25,"v":-0.5},{"x":0.26,"v":0.55},{"x":0.258,"v":0.15},{"x":0.27,"v":-0.25},{"x":0.28,"v":0.4},{"x":0.29,"v":-0.45},{"x":0.3,"v":0.6},{"x":0.31,"v":-0.6},{"x":0.32,"v":0.45},{"x":0.33,"v":-0.42},{"x":0.34,"v":0.55},{"x":0.35,"v":-0.55},{"x":0.36,"v":0.42},{"x":0.37,"v":-0.45},{"x":0.38,"v":0.58},{"x":0.39,"v":-0.6},{"x":0.4,"v":0.45},{"x":0.41,"v":-0.42},{"x":0.42,"v":0.55},{"x":0.43,"v":-0.5},{"x":0.44,"v":0.4},{"x":0.45,"v":-0.38},{"x":0.46,"v":0.52},{"x":0.47,"v":-0.55},{"x":0.48,"v":0.35},{"x":0.49,"v":-0.3},{"x":0.5,"v":0.45},{"x":0.51,"v":-0.45},{"x":0.52,"v":0.25},{"x":0.525,"v":-0.15},{"x":0.53,"v":0.4},{"x":0.54,"v":0.05},{"x":0.55,"v":-0.35},{"x":0.56,"v":0.3},{"x":0.57,"v":-0.2},{"x":0.58,"v":0.15},{"x":0.575,"v":-0.36},{"x":0.6,"v":0.12},{"x":0.605,"v":-0.1},{"x":0.545,"v":0.42},{"x":0.56,"v":-0.44},{"x":0.225,"v":0.0},{"x":0.255,"v":0.38},{"x":0.275,"v":-0.55},
      {"x":0.35,"v":2.0},{"x":0.4,"v":1.8},{"x":0.45,"v":1.6},{"x":0.5,"v":1.4},{"x":0.55,"v":1.25},{"x":0.6,"v":1.05},{"x":0.37,"v":-1.9},{"x":0.43,"v":-1.7},{"x":0.52,"v":-1.35},{"x":0.58,"v":-1.1},{"x":0.47,"v":-1.5}
    ],
    "p3B": [
      {"c":"U","o":0,"x":-2.51,"v":3.74},{"c":"U","o":1,"x":-2.3,"v":3.33},{"c":"U","o":2,"x":-2.1,"v":2.94},{"c":"U","o":3,"x":-1.9,"v":2.55},{"c":"U","o":4,"x":-1.7,"v":2.16},{"c":"U","o":5,"x":-1.5,"v":1.78},{"c":"U","o":6,"x":-1.38,"v":1.52},{"c":"U","o":7,"x":-1.28,"v":1.25},{"c":"U","o":8,"x":-1.2,"v":1.02},{"c":"U","o":9,"x":-1.14,"v":0.86},{"c":"U","o":10,"x":-1.08,"v":0.8},{"c":"U","o":11,"x":-1.02,"v":0.84},{"c":"U","o":12,"x":-0.95,"v":0.98},{"c":"U","o":13,"x":-0.86,"v":1.2},{"c":"U","o":14,"x":-0.75,"v":1.55},{"c":"U","o":15,"x":-0.62,"v":2.0},{"c":"U","o":16,"x":-0.48,"v":2.52},{"c":"U","o":17,"x":-0.34,"v":3.05},{"c":"U","o":18,"x":-0.22,"v":3.55},{"c":"U","o":19,"x":-0.12,"v":4.0},{"c":"U","o":20,"x":-0.05,"v":4.35},{"c":"U","o":21,"x":0,"v":4.6},{"c":"U","o":22,"x":0.05,"v":4.35},{"c":"U","o":23,"x":0.12,"v":4.0},{"c":"U","o":24,"x":0.22,"v":3.55},{"c":"U","o":25,"x":0.34,"v":3.05},{"c":"U","o":26,"x":0.48,"v":2.52},{"c":"U","o":27,"x":0.62,"v":2.0},{"c":"U","o":28,"x":0.75,"v":1.55},{"c":"U","o":29,"x":0.86,"v":1.2},{"c":"U","o":30,"x":0.95,"v":0.98},{"c":"U","o":31,"x":1.02,"v":0.84},{"c":"U","o":32,"x":1.08,"v":0.8},{"c":"U","o":33,"x":1.14,"v":0.86},{"c":"U","o":34,"x":1.2,"v":1.02},{"c":"U","o":35,"x":1.28,"v":1.25},{"c":"U","o":36,"x":1.38,"v":1.52},{"c":"U","o":37,"x":1.5,"v":1.78},{"c":"U","o":38,"x":1.7,"v":2.16},{"c":"U","o":39,"x":1.9,"v":2.55},{"c":"U","o":40,"x":2.1,"v":2.94},{"c":"U","o":41,"x":2.3,"v":3.33},{"c":"U","o":42,"x":2.51,"v":3.74},
      {"c":"D","o":0,"x":-2.51,"v":-3.74},{"c":"D","o":1,"x":-2.3,"v":-3.33},{"c":"D","o":2,"x":-2.1,"v":-2.94},{"c":"D","o":3,"x":-1.9,"v":-2.55},{"c":"D","o":4,"x":-1.7,"v":-2.16},{"c":"D","o":5,"x":-1.5,"v":-1.78},{"c":"D","o":6,"x":-1.38,"v":-1.52},{"c":"D","o":7,"x":-1.28,"v":-1.25},{"c":"D","o":8,"x":-1.2,"v":-1.02},{"c":"D","o":9,"x":-1.14,"v":-0.86},{"c":"D","o":10,"x":-1.08,"v":-0.8},{"c":"D","o":11,"x":-1.02,"v":-0.84},{"c":"D","o":12,"x":-0.95,"v":-0.98},{"c":"D","o":13,"x":-0.86,"v":-1.2},{"c":"D","o":14,"x":-0.75,"v":-1.55},{"c":"D","o":15,"x":-0.62,"v":-2.0},{"c":"D","o":16,"x":-0.48,"v":-2.52},{"c":"D","o":17,"x":-0.34,"v":-3.05},{"c":"D","o":18,"x":-0.22,"v":-3.55},{"c":"D","o":19,"x":-0.12,"v":-4.0},{"c":"D","o":20,"x":-0.05,"v":-4.35},{"c":"D","o":21,"x":0,"v":-4.6},{"c":"D","o":22,"x":0.05,"v":-4.35},{"c":"D","o":23,"x":0.12,"v":-4.0},{"c":"D","o":24,"x":0.22,"v":-3.55},{"c":"D","o":25,"x":0.34,"v":-3.05},{"c":"D","o":26,"x":0.48,"v":-2.52},{"c":"D","o":27,"x":0.62,"v":-2.0},{"c":"D","o":28,"x":0.75,"v":-1.55},{"c":"D","o":29,"x":0.86,"v":-1.2},{"c":"D","o":30,"x":0.95,"v":-0.98},{"c":"D","o":31,"x":1.02,"v":-0.84},{"c":"D","o":32,"x":1.08,"v":-0.8},{"c":"D","o":33,"x":1.14,"v":-0.86},{"c":"D","o":34,"x":1.2,"v":-1.02},{"c":"D","o":35,"x":1.28,"v":-1.25},{"c":"D","o":36,"x":1.38,"v":-1.52},{"c":"D","o":37,"x":1.5,"v":-1.78},{"c":"D","o":38,"x":1.7,"v":-2.16},{"c":"D","o":39,"x":1.9,"v":-2.55},{"c":"D","o":40,"x":2.1,"v":-2.94},{"c":"D","o":41,"x":2.3,"v":-3.33},{"c":"D","o":42,"x":2.51,"v":-3.74}
    ],
    "p3L": [
      {"c":"a","s":"solid","o":0,"x":-0.308,"v":0},{"c":"a","s":"solid","o":1,"x":-0.313,"v":0.23},{"c":"a","s":"solid","o":2,"x":-0.325,"v":0.4},{"c":"a","s":"solid","o":3,"x":-0.342,"v":0.46},{"c":"a","s":"solid","o":4,"x":-0.359,"v":0.4},{"c":"a","s":"solid","o":5,"x":-0.371,"v":0.23},{"c":"a","s":"solid","o":6,"x":-0.376,"v":0},{"c":"a","s":"solid","o":7,"x":-0.371,"v":-0.23},{"c":"a","s":"solid","o":8,"x":-0.359,"v":-0.4},{"c":"a","s":"solid","o":9,"x":-0.342,"v":-0.46},{"c":"a","s":"solid","o":10,"x":-0.325,"v":-0.4},{"c":"a","s":"solid","o":11,"x":-0.313,"v":-0.23},
      {"c":"b","s":"dot","o":0,"x":-0.16,"v":0},{"c":"b","s":"dot","o":1,"x":-0.17,"v":0.75},{"c":"b","s":"dot","o":2,"x":-0.22,"v":1.25},{"c":"b","s":"dot","o":3,"x":-0.33,"v":1.45},{"c":"b","s":"dot","o":4,"x":-0.46,"v":1.35},{"c":"b","s":"dot","o":5,"x":-0.57,"v":1.0},{"c":"b","s":"dot","o":6,"x":-0.63,"v":0.5},{"c":"b","s":"dot","o":7,"x":-0.64,"v":0},{"c":"b","s":"dot","o":8,"x":-0.63,"v":-0.5},{"c":"b","s":"dot","o":9,"x":-0.57,"v":-1.0},{"c":"b","s":"dot","o":10,"x":-0.46,"v":-1.35},{"c":"b","s":"dot","o":11,"x":-0.33,"v":-1.45},{"c":"b","s":"dot","o":12,"x":-0.22,"v":-1.25},{"c":"b","s":"dot","o":13,"x":-0.17,"v":-0.75},
      {"c":"c","s":"solid","o":0,"x":-0.73,"v":0},{"c":"c","s":"solid","o":1,"x":-0.71,"v":0.8},{"c":"c","s":"solid","o":2,"x":-0.65,"v":1.45},{"c":"c","s":"solid","o":3,"x":-0.55,"v":1.95},{"c":"c","s":"solid","o":4,"x":-0.4,"v":2.3},{"c":"c","s":"solid","o":5,"x":-0.24,"v":2.3},{"c":"c","s":"solid","o":6,"x":-0.13,"v":1.95},{"c":"c","s":"solid","o":7,"x":-0.1,"v":1.0},{"c":"c","s":"solid","o":8,"x":-0.095,"v":0},{"c":"c","s":"solid","o":9,"x":-0.1,"v":-1.0},{"c":"c","s":"solid","o":10,"x":-0.13,"v":-1.95},{"c":"c","s":"solid","o":11,"x":-0.24,"v":-2.3},{"c":"c","s":"solid","o":12,"x":-0.4,"v":-2.3},{"c":"c","s":"solid","o":13,"x":-0.55,"v":-1.95},{"c":"c","s":"solid","o":14,"x":-0.65,"v":-1.45},{"c":"c","s":"solid","o":15,"x":-0.71,"v":-0.8},
      {"c":"d","s":"dot","o":0,"x":-0.85,"v":0},{"c":"d","s":"dot","o":1,"x":-0.83,"v":0.8},{"c":"d","s":"dot","o":2,"x":-0.77,"v":1.25},{"c":"d","s":"dot","o":3,"x":-0.66,"v":1.7},{"c":"d","s":"dot","o":4,"x":-0.5,"v":2.3},{"c":"d","s":"dot","o":5,"x":-0.35,"v":2.8},{"c":"d","s":"dot","o":6,"x":-0.2,"v":2.95},{"c":"d","s":"dot","o":7,"x":-0.08,"v":2.7},{"c":"d","s":"dot","o":8,"x":-0.055,"v":1.5},{"c":"d","s":"dot","o":9,"x":-0.05,"v":0},{"c":"d","s":"dot","o":10,"x":-0.055,"v":-1.5},{"c":"d","s":"dot","o":11,"x":-0.08,"v":-2.7},{"c":"d","s":"dot","o":12,"x":-0.2,"v":-2.95},{"c":"d","s":"dot","o":13,"x":-0.35,"v":-2.8},{"c":"d","s":"dot","o":14,"x":-0.5,"v":-2.3},{"c":"d","s":"dot","o":15,"x":-0.66,"v":-1.7},{"c":"d","s":"dot","o":16,"x":-0.77,"v":-1.25},{"c":"d","s":"dot","o":17,"x":-0.83,"v":-0.8},
      {"c":"e","s":"solid","o":0,"x":0.245,"v":0},{"c":"e","s":"solid","o":1,"x":0.238,"v":0.09},{"c":"e","s":"solid","o":2,"x":0.22,"v":0.13},{"c":"e","s":"solid","o":3,"x":0.202,"v":0.09},{"c":"e","s":"solid","o":4,"x":0.195,"v":0},{"c":"e","s":"solid","o":5,"x":0.202,"v":-0.09},{"c":"e","s":"solid","o":6,"x":0.22,"v":-0.13},{"c":"e","s":"solid","o":7,"x":0.238,"v":-0.09}
    ],
    "p3O": [
      {"c":"C1","s":"solid","o":0,"x":-1.22,"v":0.75},{"c":"C1","s":"solid","o":1,"x":-1.4,"v":0.86},{"c":"C1","s":"solid","o":2,"x":-1.67,"v":0.9},{"c":"C1","s":"solid","o":3,"x":-1.94,"v":0.75},{"c":"C1","s":"solid","o":4,"x":-2.14,"v":0.48},{"c":"C1","s":"solid","o":5,"x":-2.31,"v":0},{"c":"C1","s":"solid","o":6,"x":-2.14,"v":-0.48},{"c":"C1","s":"solid","o":7,"x":-1.94,"v":-0.75},{"c":"C1","s":"solid","o":8,"x":-1.67,"v":-0.9},{"c":"C1","s":"solid","o":9,"x":-1.4,"v":-0.86},{"c":"C1","s":"solid","o":10,"x":-1.22,"v":-0.75},
      {"c":"C2","s":"solid","o":0,"x":-1.2,"v":0.62},{"c":"C2","s":"solid","o":1,"x":-1.4,"v":0.7},{"c":"C2","s":"solid","o":2,"x":-1.67,"v":0.66},{"c":"C2","s":"solid","o":3,"x":-1.87,"v":0.46},{"c":"C2","s":"solid","o":4,"x":-2.0,"v":0},{"c":"C2","s":"solid","o":5,"x":-1.87,"v":-0.46},{"c":"C2","s":"solid","o":6,"x":-1.67,"v":-0.66},{"c":"C2","s":"solid","o":7,"x":-1.4,"v":-0.7},{"c":"C2","s":"solid","o":8,"x":-1.2,"v":-0.62},
      {"c":"C3","s":"solid","o":0,"x":-1.18,"v":0.55},{"c":"C3","s":"solid","o":1,"x":-1.3,"v":0.6},{"c":"C3","s":"solid","o":2,"x":-1.5,"v":0.56},{"c":"C3","s":"solid","o":3,"x":-1.67,"v":0.38},{"c":"C3","s":"solid","o":4,"x":-1.77,"v":0},{"c":"C3","s":"solid","o":5,"x":-1.67,"v":-0.38},{"c":"C3","s":"solid","o":6,"x":-1.5,"v":-0.56},{"c":"C3","s":"solid","o":7,"x":-1.3,"v":-0.6},{"c":"C3","s":"solid","o":8,"x":-1.18,"v":-0.55},
      {"c":"C4","s":"solid","o":0,"x":-1.17,"v":0.46},{"c":"C4","s":"solid","o":1,"x":-1.37,"v":0.48},{"c":"C4","s":"solid","o":2,"x":-1.5,"v":0.33},{"c":"C4","s":"solid","o":3,"x":-1.57,"v":0},{"c":"C4","s":"solid","o":4,"x":-1.5,"v":-0.33},{"c":"C4","s":"solid","o":5,"x":-1.37,"v":-0.48},{"c":"C4","s":"solid","o":6,"x":-1.17,"v":-0.46},
      {"c":"R1","s":"solid","o":0,"x":0.85,"v":1.15},{"c":"R1","s":"solid","o":1,"x":0.75,"v":1.0},{"c":"R1","s":"solid","o":2,"x":0.66,"v":0.65},{"c":"R1","s":"solid","o":3,"x":0.62,"v":0},{"c":"R1","s":"solid","o":4,"x":0.66,"v":-0.65},{"c":"R1","s":"solid","o":5,"x":0.75,"v":-1.0},{"c":"R1","s":"solid","o":6,"x":0.85,"v":-1.15},
      {"c":"R2","s":"solid","o":0,"x":0.95,"v":0.88},{"c":"R2","s":"solid","o":1,"x":0.85,"v":0.78},{"c":"R2","s":"solid","o":2,"x":0.78,"v":0.45},{"c":"R2","s":"solid","o":3,"x":0.76,"v":0},{"c":"R2","s":"solid","o":4,"x":0.78,"v":-0.45},{"c":"R2","s":"solid","o":5,"x":0.85,"v":-0.78},{"c":"R2","s":"solid","o":6,"x":0.95,"v":-0.88},
      {"c":"R3","s":"solid","o":0,"x":1.02,"v":0.7},{"c":"R3","s":"solid","o":1,"x":0.95,"v":0.6},{"c":"R3","s":"solid","o":2,"x":0.9,"v":0.35},{"c":"R3","s":"solid","o":3,"x":0.89,"v":0},{"c":"R3","s":"solid","o":4,"x":0.9,"v":-0.35},{"c":"R3","s":"solid","o":5,"x":0.95,"v":-0.6},{"c":"R3","s":"solid","o":6,"x":1.02,"v":-0.7},
      {"c":"R4","s":"solid","o":0,"x":1.1,"v":0.62},{"c":"R4","s":"solid","o":1,"x":1.06,"v":0.4},{"c":"R4","s":"solid","o":2,"x":1.05,"v":0},{"c":"R4","s":"solid","o":3,"x":1.06,"v":-0.4},{"c":"R4","s":"solid","o":4,"x":1.1,"v":-0.62},
      {"c":"R5","s":"solid","o":0,"x":1.17,"v":0.66},{"c":"R5","s":"solid","o":1,"x":1.13,"v":0.45},{"c":"R5","s":"solid","o":2,"x":1.12,"v":0},{"c":"R5","s":"solid","o":3,"x":1.13,"v":-0.45},{"c":"R5","s":"solid","o":4,"x":1.17,"v":-0.66},
      {"c":"R6","s":"solid","o":0,"x":1.25,"v":0.72},{"c":"R6","s":"solid","o":1,"x":1.21,"v":0.5},{"c":"R6","s":"solid","o":2,"x":1.2,"v":0},{"c":"R6","s":"solid","o":3,"x":1.21,"v":-0.5},{"c":"R6","s":"solid","o":4,"x":1.25,"v":-0.72},
      {"c":"R7","s":"solid","o":0,"x":1.33,"v":0.8},{"c":"R7","s":"solid","o":1,"x":1.29,"v":0.55},{"c":"R7","s":"solid","o":2,"x":1.28,"v":0},{"c":"R7","s":"solid","o":3,"x":1.29,"v":-0.55},{"c":"R7","s":"solid","o":4,"x":1.33,"v":-0.8},
      {"c":"R8","s":"solid","o":0,"x":1.41,"v":0.9},{"c":"R8","s":"solid","o":1,"x":1.37,"v":0.6},{"c":"R8","s":"solid","o":2,"x":1.36,"v":0},{"c":"R8","s":"solid","o":3,"x":1.37,"v":-0.6},{"c":"R8","s":"solid","o":4,"x":1.41,"v":-0.9},
      {"c":"R9","s":"solid","o":0,"x":1.49,"v":0.95},{"c":"R9","s":"solid","o":1,"x":1.45,"v":0.62},{"c":"R9","s":"solid","o":2,"x":1.44,"v":0},{"c":"R9","s":"solid","o":3,"x":1.45,"v":-0.62},{"c":"R9","s":"solid","o":4,"x":1.49,"v":-0.95},
      {"c":"V1","s":"dot","o":0,"x":0.0,"v":4.5},{"c":"V1","s":"dot","o":1,"x":0.02,"v":3.5},{"c":"V1","s":"dot","o":2,"x":0.035,"v":2.0},{"c":"V1","s":"dot","o":3,"x":0.04,"v":0.5},{"c":"V1","s":"dot","o":4,"x":0.04,"v":-0.5},{"c":"V1","s":"dot","o":5,"x":0.035,"v":-2.0},{"c":"V1","s":"dot","o":6,"x":0.02,"v":-3.5},{"c":"V1","s":"dot","o":7,"x":0.0,"v":-4.5},
      {"c":"V2","s":"dot","o":0,"x":-0.02,"v":4.0},{"c":"V2","s":"dot","o":1,"x":0.0,"v":3.0},{"c":"V2","s":"dot","o":2,"x":0.015,"v":1.5},{"c":"V2","s":"dot","o":3,"x":0.02,"v":0},{"c":"V2","s":"dot","o":4,"x":0.015,"v":-1.5},{"c":"V2","s":"dot","o":5,"x":0.0,"v":-3.0},{"c":"V2","s":"dot","o":6,"x":-0.02,"v":-4.0}
    ],
    "p3S": [
      {"x":0.01,"v":4.2},{"x":0.03,"v":3.8},{"x":0.05,"v":3.2},{"x":0.02,"v":2.7},{"x":0.06,"v":2.3},{"x":0.04,"v":1.6},{"x":0.07,"v":1.1},{"x":0.03,"v":0.7},{"x":0.06,"v":0.2},{"x":0.05,"v":-0.4},{"x":0.03,"v":-0.9},{"x":0.07,"v":-1.3},{"x":0.04,"v":-1.9},{"x":0.06,"v":-2.4},{"x":0.02,"v":-2.9},{"x":0.05,"v":-3.3},{"x":0.03,"v":-3.8},{"x":0.01,"v":-4.3},{"x":-0.01,"v":3.4},{"x":-0.02,"v":2.2},{"x":-0.01,"v":-2.6},{"x":-0.02,"v":-3.6},{"x":0.08,"v":2.8},{"x":0.09,"v":-2.7},{"x":0.08,"v":0.5},{"x":0.085,"v":-0.8},{"x":0.01,"v":1.2},{"x":0.015,"v":-1.1},
      {"x":-1.05,"v":0.3},{"x":-1.04,"v":-0.4},{"x":-1.0,"v":0.6},{"x":-0.99,"v":-0.1},{"x":-0.97,"v":0.35},{"x":-0.95,"v":-0.7},{"x":-0.93,"v":0.8},{"x":-0.92,"v":0.0},{"x":-0.9,"v":-0.45},{"x":-0.88,"v":0.55},{"x":-0.87,"v":-0.9},{"x":-1.02,"v":-0.7},{"x":-0.96,"v":0.1},{"x":-1.07,"v":0.05},{"x":-0.91,"v":0.95},
      {"x":0.1,"v":2.3},{"x":0.1,"v":1.5},{"x":0.1,"v":0.7},{"x":0.1,"v":-0.2},{"x":0.1,"v":-1.0},{"x":0.1,"v":-1.8},{"x":0.1,"v":-2.4},
      {"x":0.13,"v":2.0},{"x":0.13,"v":1.1},{"x":0.13,"v":0.3},{"x":0.13,"v":-0.6},{"x":0.13,"v":-1.4},{"x":0.13,"v":-2.2},
      {"x":0.16,"v":2.45},{"x":0.16,"v":1.7},{"x":0.16,"v":0.9},{"x":0.16,"v":-0.25},{"x":0.16,"v":-1.1},{"x":0.16,"v":-1.9},
      {"x":0.19,"v":2.2},{"x":0.19,"v":1.35},{"x":0.19,"v":0.5},{"x":0.19,"v":-0.5},{"x":0.19,"v":-1.5},{"x":0.19,"v":-2.35},
      {"x":0.22,"v":1.9},{"x":0.22,"v":1.0},{"x":0.22,"v":0.35},{"x":0.22,"v":-0.35},{"x":0.22,"v":-1.2},{"x":0.22,"v":-2.05},
      {"x":0.25,"v":2.4},{"x":0.25,"v":1.55},{"x":0.25,"v":0.65},{"x":0.27,"v":-0.1},{"x":0.25,"v":-0.8},{"x":0.25,"v":-1.7},{"x":0.25,"v":-2.45},
      {"x":0.28,"v":2.0},{"x":0.28,"v":1.2},{"x":0.28,"v":0.3},{"x":0.28,"v":-1.3},{"x":0.28,"v":-2.1},
      {"x":0.31,"v":2.35},{"x":0.31,"v":1.6},{"x":0.31,"v":0.8},{"x":0.31,"v":-0.4},{"x":0.31,"v":-1.0},{"x":0.31,"v":-1.85},
      {"x":0.34,"v":2.1},{"x":0.34,"v":1.3},{"x":0.34,"v":0.5},{"x":0.34,"v":-0.2},{"x":0.34,"v":-1.5},{"x":0.34,"v":-2.3},
      {"x":0.37,"v":2.45},{"x":0.37,"v":1.75},{"x":0.37,"v":0.9},{"x":0.37,"v":0.1},{"x":0.37,"v":-0.7},{"x":0.37,"v":-1.2},{"x":0.37,"v":-2.0},
      {"x":0.4,"v":2.2},{"x":0.4,"v":1.4},{"x":0.4,"v":0.6},{"x":0.4,"v":-0.45},{"x":0.4,"v":-1.6},{"x":0.4,"v":-2.4},
      {"x":0.43,"v":2.5},{"x":0.43,"v":1.8},{"x":0.43,"v":1.0},{"x":0.43,"v":0.2},{"x":0.43,"v":-0.9},{"x":0.43,"v":-1.9},
      {"x":0.46,"v":2.1},{"x":0.46,"v":1.25},{"x":0.46,"v":0.45},{"x":0.46,"v":-0.3},{"x":0.46,"v":-1.3},{"x":0.46,"v":-2.2},
      {"x":0.49,"v":2.3},{"x":0.49,"v":1.6},{"x":0.49,"v":0.8},{"x":0.49,"v":-0.6},{"x":0.49,"v":-1.65},{"x":0.49,"v":-2.35},
      {"x":0.52,"v":2.05},{"x":0.52,"v":1.1},{"x":0.52,"v":0.1},{"x":0.52,"v":-1.0},{"x":0.52,"v":-1.95},
      {"x":0.55,"v":2.05},{"x":0.55,"v":1.45},{"x":0.55,"v":0.55},{"x":0.55,"v":-0.4},{"x":0.55,"v":-1.3},{"x":0.55,"v":-2.05},
      {"x":0.58,"v":1.85},{"x":0.58,"v":0.95},{"x":0.58,"v":-0.15},{"x":0.58,"v":-0.85},{"x":0.58,"v":-1.7},
      {"x":0.6,"v":1.3},{"x":0.6,"v":0.4},{"x":0.6,"v":-1.2},{"x":0.6,"v":-1.9},
      {"x":0.65,"v":1.3},{"x":0.7,"v":1.25},{"x":0.72,"v":-1.25},{"x":0.68,"v":-1.5},{"x":0.66,"v":1.75},
      {"x":0.115,"v":2.5},{"x":0.115,"v":1.05},{"x":0.115,"v":0.15},{"x":0.115,"v":-1.45},{"x":0.115,"v":-2.0},
      {"x":0.145,"v":2.3},{"x":0.145,"v":1.4},{"x":0.145,"v":-0.1},{"x":0.145,"v":-0.95},{"x":0.145,"v":-2.45},
      {"x":0.175,"v":2.0},{"x":0.175,"v":1.15},{"x":0.175,"v":0.2},{"x":0.175,"v":-0.7},{"x":0.175,"v":-1.6},
      {"x":0.205,"v":2.45},{"x":0.205,"v":1.65},{"x":0.205,"v":0.75},{"x":0.205,"v":-0.95},{"x":0.205,"v":-1.85},
      {"x":0.235,"v":2.15},{"x":0.235,"v":1.3},{"x":0.235,"v":0.6},{"x":0.235,"v":-0.55},{"x":0.235,"v":-1.45},{"x":0.235,"v":-2.3},
      {"x":0.265,"v":1.85},{"x":0.265,"v":0.95},{"x":0.265,"v":0.25},{"x":0.265,"v":-1.3},{"x":0.265,"v":-2.05},
      {"x":0.295,"v":2.5},{"x":0.295,"v":1.4},{"x":0.295,"v":0.55},{"x":0.295,"v":-0.75},{"x":0.295,"v":-1.6},
      {"x":0.325,"v":1.9},{"x":0.325,"v":1.05},{"x":0.325,"v":0.15},{"x":0.325,"v":-1.25},{"x":0.325,"v":-2.05},
      {"x":0.355,"v":2.35},{"x":0.355,"v":1.5},{"x":0.355,"v":0.7},{"x":0.355,"v":-0.5},{"x":0.355,"v":-1.0},{"x":0.355,"v":-1.85},
      {"x":0.385,"v":2.05},{"x":0.385,"v":1.2},{"x":0.385,"v":0.35},{"x":0.385,"v":-0.9},{"x":0.385,"v":-1.45},{"x":0.385,"v":-2.25},
      {"x":0.415,"v":2.4},{"x":0.415,"v":1.6},{"x":0.415,"v":0.8},{"x":0.415,"v":-0.15},{"x":0.415,"v":-1.25},{"x":0.415,"v":-2.1},
      {"x":0.445,"v":1.5},{"x":0.445,"v":0.6},{"x":0.445,"v":-0.55},{"x":0.445,"v":-1.55},{"x":0.445,"v":-2.35},
      {"x":0.475,"v":2.4},{"x":0.475,"v":1.85},{"x":0.475,"v":1.05},{"x":0.475,"v":0.1},{"x":0.475,"v":-1.0},{"x":0.475,"v":-1.9},
      {"x":0.505,"v":2.2},{"x":0.505,"v":1.35},{"x":0.505,"v":0.45},{"x":0.505,"v":-0.3},{"x":0.505,"v":-1.35},{"x":0.505,"v":-2.2},
      {"x":0.535,"v":1.8},{"x":0.535,"v":0.8},{"x":0.535,"v":-0.6},{"x":0.535,"v":-1.6},
      {"x":0.565,"v":1.95},{"x":0.565,"v":1.6},{"x":0.565,"v":0.25},{"x":0.565,"v":-1.05},{"x":0.565,"v":-1.85}
    ]
  },
  "vconcat": [
    {
      "width": 748, "height": 417,
      "resolve": {"axis": {"x": "independent", "y": "independent"}},
      "layer": [
        {
          "data": {"name": "p1B"},
          "mark": {"type": "line", "strokeWidth": 1.7, "strokeDash": [13, 7]},
          "encoding": {
            "x": {"field": "x", "type": "quantitative", "scale": {"domain": [-0.1373, 0.1373], "nice": false, "zero": false},
                  "axis": {"orient": "bottom", "values": [-0.1, -0.05, 0, 0.05, 0.1], "format": ".1f", "labelExpr": "abs(datum.value) == 0.05 ? '' : datum.label", "tickSize": {"condition": {"test": "abs(datum.value) == 0.05", "value": -5}, "value": -9}, "labelPadding": 19, "title": "y", "titlePadding": 13}},
            "y": {"field": "v", "type": "quantitative", "scale": {"domain": [-3, 3], "nice": false, "zero": false},
                  "axis": {"orient": "left", "values": [-2, -1, 0, 1, 2], "labelExpr": "abs(datum.value) % 2 == 1 ? '' : datum.label", "tickSize": {"condition": {"test": "abs(datum.value) % 2 == 1", "value": -5}, "value": -9}, "labelPadding": 27, "title": ["v\u00a0", "\u00a0y"], "titleLineHeight": 8, "titlePadding": 8}},
            "detail": {"field": "c"},
            "order": {"field": "o"}
          }
        },
        {
          "data": {"name": "p1L"},
          "mark": {"type": "line", "interpolate": "cardinal-closed"},
          "encoding": {
            "x": {"field": "x", "type": "quantitative", "scale": {"domain": [-0.1373, 0.1373], "nice": false, "zero": false},
                  "axis": {"orient": "top", "values": [-0.1, -0.05, 0, 0.05, 0.1], "labels": false, "title": null, "tickSize": {"condition": {"test": "abs(datum.value) == 0.05", "value": -5}, "value": -9}}},
            "y": {"field": "v", "type": "quantitative", "scale": {"domain": [-3, 3], "nice": false, "zero": false}, "axis": null},
            "detail": {"field": "c"},
            "order": {"field": "o"},
            "strokeDash": {"field": "s", "type": "nominal", "scale": {"domain": ["solid", "dot", "dash", "dashdot", "band", "thick"], "range": [[1, 0], [1.3, 2.3], [5, 3.5], [7, 3, 2, 3], [1.6, 1.6], [1, 0]]}, "legend": null},
            "strokeWidth": {"field": "s", "type": "nominal", "scale": {"type": "ordinal", "domain": ["solid", "dot", "dash", "dashdot", "band", "thick"], "range": [1.3, 1.6, 1.4, 1.6, 3.5, 3.2]}, "legend": null}
          }
        },
        {
          "data": {"name": "p1O"},
          "mark": {"type": "line", "interpolate": "catmull-rom"},
          "encoding": {
            "x": {"field": "x", "type": "quantitative", "scale": {"domain": [-0.1373, 0.1373], "nice": false, "zero": false}, "axis": null},
            "y": {"field": "v", "type": "quantitative", "scale": {"domain": [-3, 3], "nice": false, "zero": false}, "axis": null},
            "detail": {"field": "c"},
            "order": {"field": "o"},
            "strokeDash": {"field": "s", "type": "nominal", "scale": {"domain": ["solid", "dot", "dash", "dashdot", "band", "thick"], "range": [[1, 0], [1.3, 2.3], [5, 3.5], [7, 3, 2, 3], [1.6, 1.6], [1, 0]]}, "legend": null},
            "strokeWidth": {"field": "s", "type": "nominal", "scale": {"type": "ordinal", "domain": ["solid", "dot", "dash", "dashdot", "band", "thick"], "range": [1.3, 1.6, 1.4, 1.6, 3.5, 3.2]}, "legend": null}
          }
        },
        {
          "data": {"name": "p1S"},
          "mark": {"type": "circle"},
          "encoding": {
            "x": {"field": "x", "type": "quantitative", "scale": {"domain": [-0.1373, 0.1373], "nice": false, "zero": false}, "axis": null},
            "y": {"field": "v", "type": "quantitative", "scale": {"domain": [-3, 3], "nice": false, "zero": false}, "axis": null}
          }
        },
        {
          "data": {"values": [{"x": 0.0984, "v": 2.66, "e": "E", "j": "J", "t": "=\u00a0\u00a0−23"}]},
          "encoding": {
            "x": {"field": "x", "type": "quantitative", "scale": {"domain": [-0.1373, 0.1373], "nice": false, "zero": false}, "axis": null},
            "y": {"field": "v", "type": "quantitative", "scale": {"domain": [-3, 3], "nice": false, "zero": false}, "axis": null}
          },
          "layer": [
            {"mark": {"type": "text", "fontSize": 16}, "encoding": {"text": {"field": "e"}}},
            {"mark": {"type": "text", "fontSize": 11, "dx": 11, "dy": 4}, "encoding": {"text": {"field": "j"}}},
            {"mark": {"type": "text", "fontSize": 16, "dx": 34}, "encoding": {"text": {"field": "t"}}}
          ]
        }
      ]
    },
    {
      "width": 748, "height": 420,
      "resolve": {"axis": {"x": "independent", "y": "independent"}},
      "layer": [
        {
          "data": {"name": "p2B"},
          "mark": {"type": "line", "strokeWidth": 1.7, "strokeDash": [13, 7]},
          "encoding": {
            "x": {"field": "x", "type": "quantitative", "scale": {"domain": [-0.726, 0.726], "nice": false, "zero": false},
                  "axis": {"orient": "bottom", "values": [-0.6, -0.4, -0.2, 0, 0.2, 0.4, 0.6], "format": ".1f", "labelExpr": "abs(datum.value) == 0.2 || abs(datum.value) == 0.6 ? '' : datum.label", "tickSize": {"condition": {"test": "abs(datum.value) == 0.2 || abs(datum.value) == 0.6", "value": -5}, "value": -9}, "labelPadding": 19, "title": "y", "titlePadding": 13}},
            "y": {"field": "v", "type": "quantitative", "scale": {"domain": [-4.3, 4.3], "nice": false, "zero": false},
                  "axis": {"orient": "left", "values": [-4, -3, -2, -1, 0, 1, 2, 3, 4], "labelExpr": "abs(datum.value) % 2 == 1 ? '' : datum.label", "tickSize": {"condition": {"test": "abs(datum.value) % 2 == 1", "value": -5}, "value": -9}, "labelPadding": 27, "title": ["v\u00a0", "\u00a0y"], "titleLineHeight": 8, "titlePadding": 8}},
            "detail": {"field": "c"},
            "order": {"field": "o"}
          }
        },
        {
          "data": {"name": "p2L"},
          "mark": {"type": "line", "interpolate": "cardinal-closed"},
          "encoding": {
            "x": {"field": "x", "type": "quantitative", "scale": {"domain": [-0.726, 0.726], "nice": false, "zero": false},
                  "axis": {"orient": "top", "values": [-0.6, -0.4, -0.2, 0, 0.2, 0.4, 0.6], "labels": false, "title": null, "tickSize": {"condition": {"test": "abs(datum.value) == 0.2 || abs(datum.value) == 0.6", "value": -5}, "value": -9}}},
            "y": {"field": "v", "type": "quantitative", "scale": {"domain": [-4.3, 4.3], "nice": false, "zero": false}, "axis": null},
            "detail": {"field": "c"},
            "order": {"field": "o"},
            "strokeDash": {"field": "s", "type": "nominal", "scale": {"domain": ["solid", "dot", "dash", "dashdot", "band", "thick"], "range": [[1, 0], [1.3, 2.3], [5, 3.5], [7, 3, 2, 3], [1.6, 1.6], [1, 0]]}, "legend": null},
            "strokeWidth": {"field": "s", "type": "nominal", "scale": {"type": "ordinal", "domain": ["solid", "dot", "dash", "dashdot", "band", "thick"], "range": [1.3, 1.6, 1.4, 1.6, 3.5, 3.2]}, "legend": null}
          }
        },
        {
          "data": {"name": "p2O"},
          "mark": {"type": "line"},
          "encoding": {
            "x": {"field": "x", "type": "quantitative", "scale": {"domain": [-0.726, 0.726], "nice": false, "zero": false}, "axis": null},
            "y": {"field": "v", "type": "quantitative", "scale": {"domain": [-4.3, 4.3], "nice": false, "zero": false}, "axis": null},
            "detail": {"field": "c"},
            "order": {"field": "o"},
            "strokeDash": {"field": "s", "type": "nominal", "scale": {"domain": ["solid", "dot", "dash", "dashdot", "band", "thick"], "range": [[1, 0], [1.3, 2.3], [5, 3.5], [7, 3, 2, 3], [1.6, 1.6], [1, 0]]}, "legend": null},
            "strokeWidth": {"field": "s", "type": "nominal", "scale": {"type": "ordinal", "domain": ["solid", "dot", "dash", "dashdot", "band", "thick"], "range": [1.3, 1.6, 1.4, 1.6, 3.5, 3.2]}, "legend": null}
          }
        },
        {
          "data": {"name": "p2S"},
          "mark": {"type": "circle"},
          "encoding": {
            "x": {"field": "x", "type": "quantitative", "scale": {"domain": [-0.726, 0.726], "nice": false, "zero": false}, "axis": null},
            "y": {"field": "v", "type": "quantitative", "scale": {"domain": [-4.3, 4.3], "nice": false, "zero": false}, "axis": null}
          }
        },
        {
          "data": {"values": [{"x": 0.513, "v": 3.75, "e": "E", "j": "J", "t": "=\u00a0\u00a0−18"}]},
          "encoding": {
            "x": {"field": "x", "type": "quantitative", "scale": {"domain": [-0.726, 0.726], "nice": false, "zero": false}, "axis": null},
            "y": {"field": "v", "type": "quantitative", "scale": {"domain": [-4.3, 4.3], "nice": false, "zero": false}, "axis": null}
          },
          "layer": [
            {"mark": {"type": "text", "fontSize": 16}, "encoding": {"text": {"field": "e"}}},
            {"mark": {"type": "text", "fontSize": 11, "dx": 11, "dy": 4}, "encoding": {"text": {"field": "j"}}},
            {"mark": {"type": "text", "fontSize": 16, "dx": 34}, "encoding": {"text": {"field": "t"}}}
          ]
        }
      ]
    },
    {
      "width": 748, "height": 420,
      "resolve": {"axis": {"x": "independent", "y": "independent"}},
      "layer": [
        {
          "data": {"name": "p3B"},
          "mark": {"type": "line", "strokeWidth": 1.7, "strokeDash": [13, 7]},
          "encoding": {
            "x": {"field": "x", "type": "quantitative", "scale": {"domain": [-2.51, 2.51], "nice": false, "zero": false},
                  "axis": {"orient": "bottom", "values": [-2, -1, 0, 1, 2], "format": "d", "labelExpr": "abs(datum.value) == 1 ? '' : datum.label", "tickSize": {"condition": {"test": "abs(datum.value) == 1", "value": -5}, "value": -9}, "labelPadding": 19, "title": "y", "titlePadding": 13}},
            "y": {"field": "v", "type": "quantitative", "scale": {"domain": [-4.62, 4.62], "nice": false, "zero": false},
                  "axis": {"orient": "left", "values": [-4, -3, -2, -1, 0, 1, 2, 3, 4], "labelExpr": "abs(datum.value) % 2 == 1 ? '' : datum.label", "tickSize": {"condition": {"test": "abs(datum.value) % 2 == 1", "value": -5}, "value": -9}, "labelPadding": 27, "title": ["v\u00a0", "\u00a0y"], "titleLineHeight": 8, "titlePadding": 8}},
            "detail": {"field": "c"},
            "order": {"field": "o"}
          }
        },
        {
          "data": {"name": "p3L"},
          "mark": {"type": "line", "interpolate": "cardinal-closed"},
          "encoding": {
            "x": {"field": "x", "type": "quantitative", "scale": {"domain": [-2.51, 2.51], "nice": false, "zero": false},
                  "axis": {"orient": "top", "values": [-2, -1, 0, 1, 2], "labels": false, "title": null, "tickSize": {"condition": {"test": "abs(datum.value) == 1", "value": -5}, "value": -9}}},
            "y": {"field": "v", "type": "quantitative", "scale": {"domain": [-4.62, 4.62], "nice": false, "zero": false}, "axis": null},
            "detail": {"field": "c"},
            "order": {"field": "o"},
            "strokeDash": {"field": "s", "type": "nominal", "scale": {"domain": ["solid", "dot", "dash", "dashdot", "band", "thick"], "range": [[1, 0], [1.3, 2.3], [5, 3.5], [7, 3, 2, 3], [1.6, 1.6], [1, 0]]}, "legend": null},
            "strokeWidth": {"field": "s", "type": "nominal", "scale": {"type": "ordinal", "domain": ["solid", "dot", "dash", "dashdot", "band", "thick"], "range": [1.3, 1.6, 1.4, 1.6, 3.5, 3.2]}, "legend": null}
          }
        },
        {
          "data": {"name": "p3O"},
          "mark": {"type": "line", "interpolate": "catmull-rom"},
          "encoding": {
            "x": {"field": "x", "type": "quantitative", "scale": {"domain": [-2.51, 2.51], "nice": false, "zero": false}, "axis": null},
            "y": {"field": "v", "type": "quantitative", "scale": {"domain": [-4.62, 4.62], "nice": false, "zero": false}, "axis": null},
            "detail": {"field": "c"},
            "order": {"field": "o"},
            "strokeDash": {"field": "s", "type": "nominal", "scale": {"domain": ["solid", "dot", "dash", "dashdot", "band", "thick"], "range": [[1, 0], [1.3, 2.3], [5, 3.5], [7, 3, 2, 3], [1.6, 1.6], [1, 0]]}, "legend": null},
            "strokeWidth": {"field": "s", "type": "nominal", "scale": {"type": "ordinal", "domain": ["solid", "dot", "dash", "dashdot", "band", "thick"], "range": [1.3, 1.6, 1.4, 1.6, 3.5, 3.2]}, "legend": null}
          }
        },
        {
          "data": {"name": "p3S"},
          "mark": {"type": "circle"},
          "encoding": {
            "x": {"field": "x", "type": "quantitative", "scale": {"domain": [-2.51, 2.51], "nice": false, "zero": false}, "axis": null},
            "y": {"field": "v", "type": "quantitative", "scale": {"domain": [-4.62, 4.62], "nice": false, "zero": false}, "axis": null}
          }
        },
        {
          "data": {"values": [{"x": 1.79, "v": 3.98, "e": "E", "j": "J", "t": "=\u00a0\u00a0−17"}]},
          "encoding": {
            "x": {"field": "x", "type": "quantitative", "scale": {"domain": [-2.51, 2.51], "nice": false, "zero": false}, "axis": null},
            "y": {"field": "v", "type": "quantitative", "scale": {"domain": [-4.62, 4.62], "nice": false, "zero": false}, "axis": null}
          },
          "layer": [
            {"mark": {"type": "text", "fontSize": 16}, "encoding": {"text": {"field": "e"}}},
            {"mark": {"type": "text", "fontSize": 11, "dx": 11, "dy": 4}, "encoding": {"text": {"field": "j"}}},
            {"mark": {"type": "text", "fontSize": 16, "dx": 34}, "encoding": {"text": {"field": "t"}}}
          ]
        }
      ]
    }
  ]
}
